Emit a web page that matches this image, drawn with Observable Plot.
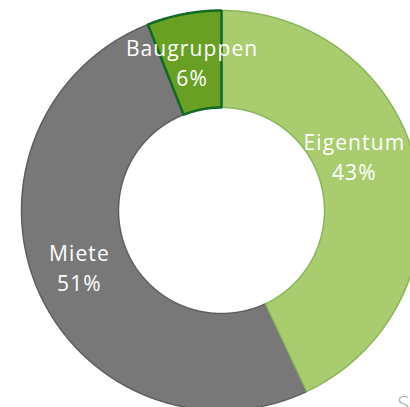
<!DOCTYPE html>
<html><head><meta charset="utf-8">
<script src="https://cdn.jsdelivr.net/npm/d3@7"></script>
<script src="https://cdn.jsdelivr.net/npm/@observablehq/plot@0.6"></script>
<style>html,body{margin:0;padding:0;background:#fff;overflow:hidden}
svg text{letter-spacing:1.1px}</style>
</head><body><div id="chart"></div>
<script>
const categories = ["Eigentum", "Miete", "Baugruppen"];
const shares = [43, 51, 6];
const labels = ["Eigentum\n43%", "Miete\n51%", "Baugruppen\n6%"];
const fills = ["#a9cc6e", "#787878", "#68a024"];
const strokes = ["#8ab45a", "#5e5e5e", "#0e6b25"];
const strokeWidths = [1.5, 1.5, 2.5];
const labelShift = [[-15, -22], [-3, -4], [-1, 0]];

const R = 200, r0 = 103;
const total = d3.sum(shares);
let acc = 0;
const slices = categories.map((c, i) => {
  const a0 = acc / total * 2 * Math.PI;
  acc += shares[i];
  const a1 = acc / total * 2 * Math.PI;
  return {c, i, a0, a1};
});
function pt(a, rad) { return {x: rad * Math.sin(a), y: rad * Math.cos(a)}; }
function poly(s) {
  const n = Math.max(4, Math.ceil((s.a1 - s.a0) / 0.005));
  const pts = [];
  for (let k = 0; k <= n; k++) pts.push(pt(s.a0 + (s.a1 - s.a0) * k / n, R));
  for (let k = n; k >= 0; k--) pts.push(pt(s.a0 + (s.a1 - s.a0) * k / n, r0));
  pts.push(pts[0]);
  return pts;
}
const marks = [];
const order = [1, 0, 2];
for (const i of order) {
  const s = slices[i];
  marks.push(Plot.line(poly(s), {x: "x", y: "y", fill: fills[i], stroke: strokes[i], strokeWidth: strokeWidths[i], curve: "linear", strokeLinejoin: "miter"}));
}
for (const s of slices) {
  const m = (s.a0 + s.a1) / 2, rm = (R + r0) / 2;
  const p = pt(m, rm);
  marks.push(Plot.text([{...p, t: labels[s.i]}], {x: "x", y: "y", text: "t", fill: "white", fontSize: 21, lineHeight: 1.42, dx: labelShift[s.i][0], dy: labelShift[s.i][1], fontFamily: "Open Sans", fontWeight: 400}));
}
marks.push(Plot.text(["S"], {frameAnchor: "bottom-right", text: d => d, textAnchor: "start", lineAnchor: "top", dx: -13, dy: -11, fill: "#a8a8a8", fontSize: 22, fontFamily: "Open Sans", fontWeight: 300}));

const chart = Plot.plot({
  width: 410, height: 407,
  margin: 0,
  x: {domain: [-221, 189], axis: null},
  y: {domain: [-197, 210], axis: null},
  style: {background: "white", overflow: "hidden"},
  marks
});
document.getElementById("chart").append(chart);
</script></body></html>
